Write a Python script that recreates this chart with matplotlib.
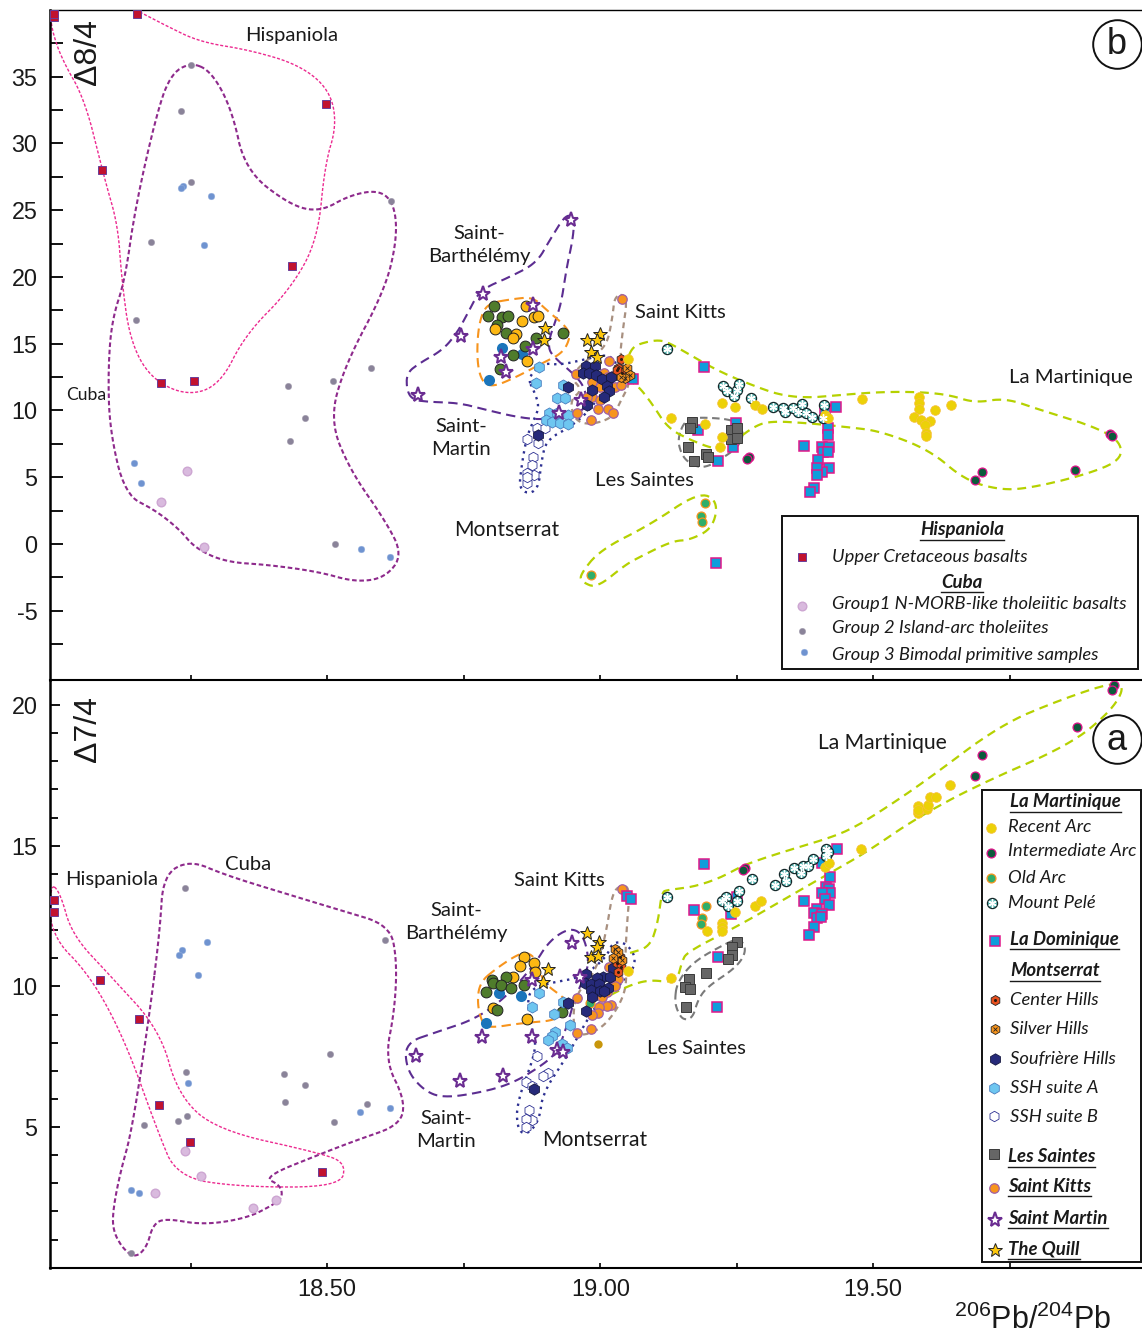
#!/usr/bin/env python3
"""Pb isotope plots (D8/4 and D7/4 vs 206Pb/204Pb), Lesser Antilles, Hispaniola, Cuba."""
import numpy as np
import matplotlib
matplotlib.use("Agg")
import matplotlib.pyplot as plt
from matplotlib.lines import Line2D
from matplotlib.patches import Rectangle

plt.rcParams["axes.unicode_minus"] = False

W, H = 1142, 1336
FONT = ["Lato", "Open Sans", "DejaVu Sans"]
NUMFONT = ["Liberation Sans", "DejaVu Sans"]

# ===== panel b, D8/4 =====
HISP_B = [(18.000,39.5),(18.000,39.7),(18.152,39.7),(18.498,32.95),(18.088,28.0),(18.436,20.8),(18.196,12.06),(18.256,12.2)]
CUBA2_B = [(18.251,35.9),(18.233,32.4),(18.251,27.1),(18.178,22.6),(18.150,16.8),(18.617,25.7),(18.511,12.2),(18.429,11.8),(18.581,13.2),(18.460,9.4),(18.432,7.7),(18.515,0.0)]
CUBA3_B = [(18.236,26.8),(18.233,26.7),(18.288,26.1),(18.275,22.4),(18.147,6.07),(18.159,4.57),(18.562,-0.37),(18.615,-0.97)]
CUBA1_B = [(18.244,5.47),(18.196,3.15),(18.275,-0.22)]
SB_GREEN_B = [(18.806,17.83),(18.794,17.08),(18.820,17.0),(18.831,17.08),(18.811,16.4),(18.827,15.8),(18.882,15.43),(18.933,15.8),(18.862,14.83),(18.840,14.16),(18.816,13.11)]
SB_YELLOW_B = [(18.864,17.83),(18.858,16.7),(18.880,17.0),(18.886,17.08),(18.807,16.1),(18.847,15.73),(18.840,15.43),(18.867,13.71)]
SB_BLUE_B = [(18.820,14.68),(18.858,14.23),(18.796,12.28)]
MARTIN_B = [(18.946,24.27),(18.785,18.73),(18.877,17.9),(18.745,15.58),(18.877,14.61),(18.818,14.01),(18.827,12.88),(18.966,10.79),(18.924,9.81),(18.666,11.16)]
QUILL_B = [(18.900,16.18),(18.897,15.28),(18.977,15.28),(19.000,15.73),(18.994,15.28),(18.984,14.38),(18.994,14.01)]
SSHA_B = [(18.889,13.26),(18.882,12.06),(18.932,11.91),(18.922,10.94),(18.935,10.94),(18.906,9.81),(18.941,9.66),(18.922,9.81),(18.902,9.29),(18.913,9.14),(18.926,9.06),(18.941,8.99)]
SSHB_B = [(18.884,8.69),(18.900,8.69),(18.867,7.87),(18.886,7.57),(18.877,6.52),(18.875,5.92),(18.879,5.17),(18.866,5.32),(18.867,4.57),(18.866,5.02)]
KITTS_B = [(19.041,18.35),(19.016,13.71),(19.008,12.81),(19.027,12.66),(18.986,12.13),(19.014,12.51),(19.000,11.76),(18.986,11.01),(19.027,11.76),(19.039,11.91),(19.000,10.79),(18.977,11.01),(18.957,9.81),(18.996,10.11),(19.014,10.11),(19.023,9.81),(18.984,9.29),(18.956,12.73)]
SOUF_B = [(18.975,13.33),(18.990,13.33),(18.968,12.81),(18.979,12.81),(18.992,12.66),(19.003,12.36),(19.021,12.51),(19.012,11.83),(18.986,11.53),(19.016,11.46),(19.008,11.01),(18.941,11.76),(18.886,8.16),(18.977,10.41)]
CENTER_B = [(19.039,13.86),(19.033,13.18),(19.041,12.81),(19.031,13.03)]
SILVER_B = [(19.049,13.18),(19.055,12.66),(19.046,12.43),(19.039,12.51)]
RECENT_B = [(19.051,13.86),(19.130,9.44),(19.223,10.56),(19.247,10.26),(19.284,10.41),(19.297,10.11),(19.192,8.99),(19.223,8.01),(19.220,7.27),(19.412,9.66),(19.417,9.44),(19.479,10.86),
            (19.584,11.01),(19.584,10.56),(19.584,10.11),(19.613,10.04),(19.576,9.51),(19.587,9.29),(19.604,9.21),(19.595,8.91),(19.597,8.31),(19.597,8.09),(19.642,10.41)]
OLD_B = [(19.192,3.07),(19.185,2.10),(19.187,1.65),(18.983,-2.32)]
INTER_B = [(19.273,6.52),(19.269,6.37),(19.699,5.39),(19.870,5.54),(19.687,4.79),(19.934,8.24),(19.938,8.09)]
PELE_B = [(19.123,14.61),(19.225,11.83),(19.232,11.46),(19.245,11.09),(19.251,11.53),(19.254,11.98),(19.276,10.94),(19.317,10.26),(19.335,10.19),(19.339,9.89),(19.353,10.19),(19.362,9.89),(19.370,10.49),(19.377,9.81),(19.388,9.51),(19.410,10.41),(19.408,9.44)]
DOMINICA_B = [(19.190,13.26),(19.179,8.54),(19.249,9.06),(19.244,7.27),(19.216,6.22),(19.412,10.11),(19.432,10.26),(19.417,8.69),(19.417,8.16),(19.374,7.34),(19.407,7.27),(19.419,7.27),(19.408,6.89),(19.417,6.89),(19.399,6.29),(19.419,5.69),(19.407,5.39),(19.397,5.69),(19.397,5.17),(19.392,4.19),(19.385,3.90),(19.212,-1.42),(19.060,12.36)]
SAINTES_B = [(19.168,9.14),(19.165,8.69),(19.161,7.27),(19.172,6.22),(19.194,6.74),(19.198,6.52),(19.240,8.54),(19.251,8.69),(19.240,7.87),(19.251,7.94)]

# outlines, panel b
HISP_HULL_B = [(18.157,39.85),(18.203,38.87),(18.267,37.6),(18.359,37.0),(18.450,35.88),(18.505,34.01),(18.518,31.39),(18.496,28.39),(18.483,22.77),(18.432,19.03),(18.350,15.66),(18.304,11.91),(18.243,11.09),(18.176,12.43),(18.139,15.28),(18.124,19.78),(18.117,23.9),(18.093,27.27),(18.057,33.26),(18.015,36.25),(17.996,38.5),(17.993,40.0)]
CUBA_HULL_B = [(18.251,36.1),(18.289,35.36),(18.326,32.51),(18.350,28.01),(18.432,25.39),(18.487,24.87),(18.542,26.14),(18.597,26.52),(18.624,25.39),(18.628,22.77),(18.606,19.03),(18.533,13.41),(18.505,9.29),(18.542,5.54),(18.606,1.80),(18.639,-0.82),(18.606,-2.55),(18.551,-2.85),(18.487,-2.10),(18.395,-1.57),(18.313,-1.35),(18.258,-0.30),(18.231,1.05),(18.185,2.55),(18.130,3.67),(18.102,8.54),(18.099,13.03),(18.106,16.78),(18.130,19.78),(18.148,25.02),(18.185,31.76),(18.212,35.13)]
MARTIN_HULL_B = [(18.939,24.79),(18.953,24.27),(18.950,22.77),(18.939,20.75),(18.930,18.28),(18.921,17.0),(18.902,14.76),(18.921,13.78),(18.950,12.81),(18.972,11.76),(18.977,10.26),(18.950,9.66),(18.895,9.29),(18.847,9.51),(18.792,10.04),(18.743,10.56),(18.688,10.64),(18.657,10.79),(18.646,11.53),(18.646,12.81),(18.670,13.56),(18.712,14.53),(18.738,15.8),(18.758,17.3),(18.780,19.03),(18.835,20.0),(18.884,21.05),(18.908,22.77)]
ORANGE_HULL_B = [(18.798,18.05),(18.840,18.35),(18.877,18.5),(18.902,17.53),(18.939,16.25),(18.946,15.51),(18.932,14.31),(18.895,13.56),(18.847,12.51),(18.804,11.76),(18.784,12.13),(18.775,13.56),(18.776,15.8),(18.784,17.3)]
MONT_HULL_B = [(18.867,12.43),(18.880,11.39),(18.889,10.26),(18.877,9.14),(18.866,8.01),(18.857,6.07),(18.851,3.90),(18.886,3.82),(18.893,6.29),(18.902,7.79),(18.945,8.76),(18.976,9.81),(18.994,10.79),(19.036,12.51),(19.023,14.31),(18.968,13.78),(18.926,13.41),(18.895,13.56)]
KITTS_HULL_B = [(19.027,18.65),(19.051,18.65),(19.041,15.8),(19.036,13.78),(19.058,12.28),(19.036,10.56),(19.023,9.44),(18.981,8.91),(18.953,9.29),(18.945,10.79),(18.968,11.53),(18.945,12.51),(18.975,13.78),(19.012,14.76),(19.023,17.0)]
MART_HULL_B = [(19.049,13.78),(19.060,14.76),(19.078,15.06),(19.104,15.28),(19.124,15.13),(19.165,14.16),(19.220,12.88),(19.287,11.76),(19.330,11.16),(19.379,10.94),(19.440,11.16),(19.513,11.39),(19.586,11.39),(19.641,11.16),(19.687,10.56),(19.742,10.94),(19.806,10.04),(19.897,8.91),(19.952,7.79),(19.956,6.29),(19.888,5.17),(19.788,4.19),(19.733,4.04),(19.668,4.79),(19.604,7.04),(19.513,8.46),(19.452,8.76),(19.379,9.06),(19.311,9.21),(19.280,8.76),(19.238,7.42),(19.214,7.04),(19.165,7.79),(19.124,8.69),(19.097,10.41),(19.073,11.69),(19.060,12.06),(19.046,13.03)]
OLD_HULL_B = [(18.963,-2.32),(19.000,-0.45),(19.091,1.42),(19.181,3.90),(19.216,3.22),(19.207,1.20),(19.165,0.30),(19.132,0.22),(19.073,-0.97),(19.046,-1.57),(18.994,-3.30),(18.967,-2.85)]
SAINTES_HULL_B = [(19.143,8.01),(19.156,9.29),(19.183,9.51),(19.251,9.29),(19.264,8.31),(19.253,7.27),(19.225,6.44),(19.189,5.62),(19.159,6.14),(19.146,7.04)]

# ===== panel a, D7/4 =====
HISP_A = [(18.000,13.07),(18.000,12.64),(18.084,10.23),(18.156,8.84),(18.192,5.78),(18.249,4.47),(18.490,3.40)]
CUBA2_A = [(18.240,13.5),(18.606,11.65),(18.242,6.96),(18.505,7.6),(18.421,6.88),(18.459,6.49),(18.423,5.89),(18.243,5.39),(18.227,5.21),(18.165,5.07),(18.512,5.18),(18.573,5.82),(18.141,0.52)]
CUBA3_A = [(18.234,11.29),(18.229,11.11),(18.280,11.58),(18.264,10.4),(18.245,6.56),(18.141,2.76),(18.156,2.65),(18.560,5.53),(18.615,5.68)]
CUBA1_A = [(18.240,4.15),(18.269,3.26),(18.185,2.65),(18.364,2.12),(18.407,2.40)]
SB_GREEN_A = [(18.802,10.23),(18.804,10.12),(18.827,10.33),(18.818,10.05),(18.837,9.94),(18.791,9.80),(18.861,10.05),(18.811,9.16),(18.930,9.09)]
SB_YELLOW_A = [(18.861,11.04),(18.853,10.72),(18.879,10.83),(18.881,10.51),(18.840,10.33),(18.804,9.23),(18.866,8.84)]
SB_BLUE_A = [(18.815,9.76),(18.855,9.66),(18.791,8.70)]
MARTIN_A = [(18.948,11.54),(18.875,10.23),(18.963,10.33),(18.784,8.2),(18.875,8.2),(18.663,7.52),(18.743,6.64),(18.822,6.81),(18.921,7.74),(18.932,7.67)]
QUILL_A = [(18.977,11.9),(18.998,11.58),(18.994,11.4),(18.984,11.04),(18.996,11.08),(18.905,10.62),(18.895,10.15)]
SSHA_A = [(18.888,9.76),(18.875,9.27),(18.932,9.44),(18.916,9.02),(18.945,8.63),(18.918,8.38),(18.913,8.24),(18.905,8.09),(18.930,7.95),(18.939,7.81)]
SSHB_A = [(18.884,7.52),(18.905,6.92),(18.895,6.81),(18.864,6.60),(18.875,6.46),(18.870,5.60),(18.875,5.25),(18.864,5.28),(18.864,5.00)]
KITTS_A = [(19.041,13.46),(19.016,10.69),(19.023,10.23),(19.033,10.26),(19.027,10.01),(19.012,9.80),(19.003,9.62),(19.020,9.34),(19.012,9.30),(18.998,9.27),(18.996,9.05),(18.986,8.98),(18.957,9.59),(18.983,8.48),(18.957,8.34)]
SOUF_A = [(19.023,10.65),(18.974,10.44),(19.005,10.33),(19.018,10.33),(18.994,10.30),(18.972,10.12),(18.984,10.08),(18.998,10.08),(18.984,9.87),(19.000,9.83),(19.014,9.94),(19.007,9.83),(18.986,9.62),(18.941,9.41),(18.974,9.12),(18.879,6.35)]
GOLD_A = [(18.996,7.95)]
CENTER_A = [(19.036,11.04),(19.031,10.83),(19.039,10.69),(19.033,10.51)]
SILVER_A = [(19.027,11.33),(19.033,11.22),(19.041,10.94),(19.023,11.01)]
RECENT_A = [(19.051,10.55),(19.130,10.30),(19.196,11.97),(19.223,12.25),(19.223,12.11),(19.223,11.97),(19.284,12.86),(19.295,13.03),(19.247,12.64),(19.412,14.24),(19.419,14.39),(19.478,14.88),
            (19.582,16.16),(19.582,16.41),(19.582,16.27),(19.599,16.31),(19.600,16.45),(19.604,16.73),(19.615,16.73),(19.641,17.16)]
OLD_A = [(19.194,12.86),(19.187,12.43),(19.185,12.22),(18.981,9.41)]
INTER_A = [(19.265,14.21),(19.262,14.14),(19.699,18.22),(19.687,17.48),(19.874,19.22),(19.941,20.71),(19.938,20.54)]
PELE_A = [(19.123,13.18),(19.254,13.39),(19.278,13.82),(19.231,13.18),(19.223,13.03),(19.234,12.86),(19.251,13.03),(19.320,13.60),(19.337,13.99),(19.340,13.75),(19.355,14.21),(19.368,14.03),(19.372,14.28),(19.381,14.28),(19.390,14.53),(19.414,14.88),(19.417,14.78),(19.414,14.63)]
DOMINICA_A = [(19.190,14.35),(19.172,12.71),(19.251,13.18),(19.240,12.57),(19.216,11.04),(19.214,9.27),(19.374,13.03),(19.434,14.88),(19.407,14.39),(19.421,13.89),(19.414,13.53),(19.419,13.46),(19.421,13.32),(19.407,13.32),(19.412,13.11),(19.419,12.89),(19.397,12.75),(19.392,12.61),(19.407,12.57),(19.397,12.43),(19.405,12.47),(19.392,12.11),(19.382,11.83),(19.049,13.21),(19.056,13.11)]
SAINTES_A = [(19.251,11.58),(19.242,11.40),(19.242,11.11),(19.234,10.97),(19.194,10.48),(19.163,10.26),(19.156,9.98),(19.165,9.91),(19.157,9.27)]

# outlines, panel a
HISP_HULL_A = [(17.993,13.67),(18.011,13.35),(18.033,11.83),(18.102,10.4),(18.194,8.45),(18.227,6.14),(18.298,4.89),(18.487,4.08),(18.535,3.72),(18.524,2.87),(18.341,2.87),(18.225,3.22),(18.189,4.89),(18.130,8.09),(18.066,10.4),(17.993,11.83)]
CUBA_HULL_A = [(18.176,9.16),(18.194,12.0),(18.200,13.96),(18.249,14.49),(18.313,13.96),(18.432,13.25),(18.524,12.71),(18.615,12.18),(18.628,10.94),(18.624,9.16),(18.606,7.38),(18.643,5.96),(18.634,5.07),(18.555,4.54),(18.493,4.08),(18.383,3.22),(18.414,2.94),(18.419,2.51),(18.401,2.23),(18.353,1.76),(18.273,1.52),(18.203,1.76),(18.181,1.52),(18.170,0.73),(18.148,0.34),(18.124,0.73),(18.108,1.34),(18.108,2.05),(18.121,3.36),(18.143,4.89)]
MARTIN_HULL_A = [(18.643,7.99),(18.701,8.38),(18.767,8.80),(18.822,9.51),(18.877,10.69),(18.908,11.65),(18.948,12.11),(18.972,11.75),(18.981,10.69),(18.957,9.76),(18.939,8.56),(18.921,7.63),(18.889,7.13),(18.840,6.56),(18.785,6.24),(18.712,6.03),(18.676,6.32),(18.646,7.03)]
ORANGE_HULL_A = [(18.780,10.15),(18.811,10.65),(18.847,11.11),(18.867,11.22),(18.884,10.94),(18.893,10.33),(18.902,10.05),(18.932,9.62),(18.941,9.41),(18.926,8.80),(18.858,8.70),(18.798,8.52),(18.784,8.70),(18.775,9.41)]
MONT_HULL_A = [(18.866,9.51),(18.877,8.34),(18.884,7.74),(18.847,5.85),(18.849,4.89),(18.867,4.72),(18.889,5.25),(18.895,6.21),(18.939,7.49),(18.976,8.80),(19.000,9.51),(19.049,10.23),(19.068,10.94),(19.049,11.54),(19.023,11.58),(19.012,11.04),(18.968,10.33),(18.908,10.12),(18.877,9.94)]
KITTS_HULL_A = [(19.023,13.35),(19.039,13.60),(19.055,13.50),(19.049,12.11),(19.046,10.94),(19.049,9.98),(19.031,9.16),(19.000,8.45),(18.957,8.20),(18.950,8.91),(18.957,9.76),(18.994,10.58),(19.012,12.0)]
MART_HULL_A = [(19.055,11.19),(19.091,11.40),(19.106,12.25),(19.113,13.35),(19.124,13.43),(19.170,13.53),(19.220,13.85),(19.262,14.31),(19.335,14.78),(19.408,15.20),(19.458,15.56),(19.518,16.27),(19.599,17.34),(19.733,19.29),(19.842,20.18),(19.941,20.82),(19.961,20.61),(19.934,19.75),(19.860,18.58),(19.692,17.16),(19.580,15.99),(19.489,14.78),(19.421,14.03),(19.335,13.07),(19.256,12.18),(19.159,11.22),(19.150,10.87),(19.143,10.33),(19.128,10.15),(19.091,10.23),(19.055,10.05),(19.012,9.62)]
SAINTES_HULL_A = [(19.137,9.51),(19.141,10.12),(19.170,10.87),(19.232,11.54),(19.256,11.72),(19.269,11.29),(19.251,10.69),(19.196,9.98),(19.179,9.51),(19.170,8.88),(19.152,8.80),(19.141,9.16)]

# ticks
YTICKS_B = [-5, 0, 5, 10, 15, 20, 25, 30, 35]
YTICKS_A = [5, 10, 15, 20]
XTICKS = [18.50, 19.00, 19.50]

# ===== marker styles =====
STYLE = {
    "hisp": dict(marker="s", ms=6.2, mfc="#c1122f", mec="#6a3d9a", mew=0.7),
    "cuba1": dict(marker="o", ms=6.2, mfc="#d9bade", mec="#cda6d2", mew=1.0),
    "cuba2": dict(marker="o", ms=4.6, mfc="#8a8399", mec="#a09aab", mew=0.3),
    "cuba3": dict(marker="o", ms=4.8, mfc="#6f93d0", mec="#9db5e0", mew=0.3),
    "green": dict(marker="o", ms=7.8, mfc="#4f7c2b", mec="#222222", mew=0.7),
    "yellow": dict(marker="o", ms=7.8, mfc="#fdb813", mec="#222222", mew=0.7),
    "blue": dict(marker="o", ms=8, mfc="#1b75bb", mec="none"),
    "martin": dict(marker="*", ms=11, mfc="white", mec="#6a2c91", mew=1.5),
    "quill": dict(marker="*", ms=10.5, mfc="#fdc70c", mec="#222222", mew=0.7),
    "ssha": dict(marker="h", ms=8, mfc="#6ec6f0", mec="#4a7fc0", mew=0.6),
    "sshb": dict(marker="h", ms=7.5, mfc="white", mec="#2e3192", mew=0.6),
    "souf": dict(marker="h", ms=8.2, mfc="#262a7a", mec="#15173f", mew=0.6),
    "kitts": dict(marker="o", ms=6.8, mfc="#f7941d", mec="#a05fa5", mew=0.9),
    "center": dict(marker="h", ms=7.2, mfc="#e8501e", mec="#222222", mew=0.6),
    "silver": dict(marker="h", ms=7.2, mfc="#f7941d", mec="#222222", mew=0.6),
    "recent": dict(marker="o", ms=7, mfc="#ecd108", mec="#f7c040", mew=0.5),
    "inter": dict(marker="o", ms=6.4, mfc="#0c5a3c", mec="#e0128a", mew=0.9),
    "old": dict(marker="o", ms=6.4, mfc="#2fae6a", mec="#f7941d", mew=0.9),
    "pele": dict(marker="o", ms=7.3, mfc="#58b9b5", mec="#16282a", mew=0.9),
    "dominica": dict(marker="s", ms=7.2, mfc="#0f9ddb", mec="#e0188a", mew=1.1),
    "saintes": dict(marker="s", ms=7.6, mfc="#666666", mec="#3a3a3a", mew=0.7),
    "gold": dict(marker="o", ms=6, mfc="#c8960c", mec="none"),
}
OVERLAY = {
    "pele": dict(marker=(6, 2, 0), ms=6, mec="white", mew=1.0),
    "center": dict(marker="o", ms=2.2, mfc="#2a1a10", mec="none"),
    "silver": dict(marker="x", ms=3.5, mec="#222222", mew=0.6),
}
HULL = {
    "hisp": dict(color="#ec2a90", lw=1.0, ls=(0, (2.2, 1.3))),
    "cuba": dict(color="#8e2a8c", lw=1.5, ls=(0, (2.2, 1.3))),
    "martin": dict(color="#5c2d91", lw=1.5, ls=(0, (4.5, 2.6))),
    "orange": dict(color="#f7941d", lw=1.5, ls=(0, (4.5, 2.6))),
    "mont": dict(color="#2e3192", lw=1.7, ls=(0, (1, 2))),
    "kitts": dict(color="#a89080", lw=1.6, ls=(0, (2.6, 2))),
    "mart": dict(color="#b5d100", lw=1.6, ls=(0, (4, 2.6))),
    "saintes": dict(color="#7a7a7a", lw=1.5, ls=(0, (3.6, 2.2))),
}


def smooth(points, closed=True, rounds=3):
    # corner cutting, the outlines are hand drawn curves
    p = np.array(points, dtype=float)
    for _ in range(rounds):
        if closed:
            q = np.roll(p, -1, axis=0)
        else:
            q = p[1:]
            p = p[:-1]
        a = 0.75 * p + 0.25 * q
        b = 0.25 * p + 0.75 * q
        new = np.empty((len(a) * 2, 2))
        new[0::2] = a
        new[1::2] = b
        if not closed:
            new = np.vstack([p[0], new, q[-1]])
        p = new
    if closed:
        p = np.vstack([p, p[0]])
    return p


def draw_hull(ax, points, name, closed=True):
    s = smooth(points, closed)
    ax.plot(s[:, 0], s[:, 1], zorder=2, **HULL[name])


def draw_points(ax, points, name, z=3):
    p = np.array(points)
    ax.plot(p[:, 0], p[:, 1], ls="none", zorder=z, **STYLE[name])
    if name in OVERLAY:
        ax.plot(p[:, 0], p[:, 1], ls="none", zorder=z + 0.1, **OVERLAY[name])


def fx(px):
    return px / W


def fy(py):
    return 1 - py / H


def label(px, py, s, size=14.6, **kw):
    kw.setdefault("ha", "center")
    kw.setdefault("va", "center")
    kw.setdefault("family", FONT)
    kw.setdefault("color", "#1a1a1a")
    kw.setdefault("zorder", 7)
    return fig.text(fx(px), fy(py), s, fontsize=size, **kw)


def heading(px, py, s, ha="left"):
    t = label(px, py, s, size=13.4, ha=ha, style="italic", weight="bold")
    bb = t.get_window_extent(fig.canvas.get_renderer())
    fig.add_artist(Line2D([bb.x0 / W, bb.x1 / W], [fy(py + 10)] * 2,
                          transform=fig.transFigure, color="#1a1a1a", lw=1.0, zorder=7))


def key(px, py, name):
    fig.add_artist(Line2D([fx(px)], [fy(py)], ls="none", transform=fig.transFigure, zorder=5, **STYLE[name]))
    if name in OVERLAY:
        fig.add_artist(Line2D([fx(px)], [fy(py)], ls="none", transform=fig.transFigure, zorder=6, **OVERLAY[name]))


def entry(px, py, s):
    label(px, py, s, size=13.2, ha="left", style="italic")


fig = plt.figure(figsize=(W / 100, H / 100), dpi=100)
ax_b = fig.add_axes([fx(50), fy(680), fx(1092), (680 - 10) / H])
ax_a = fig.add_axes([fx(50), fy(1268), fx(1092), (1268 - 681) / H])

# panel b
draw_hull(ax_b, HISP_HULL_B, "hisp", closed=False)
draw_hull(ax_b, CUBA_HULL_B, "cuba")
draw_hull(ax_b, MARTIN_HULL_B, "martin")
draw_hull(ax_b, ORANGE_HULL_B, "orange")
draw_hull(ax_b, MONT_HULL_B, "mont")
draw_hull(ax_b, KITTS_HULL_B, "kitts")
draw_hull(ax_b, SAINTES_HULL_B, "saintes")
draw_hull(ax_b, MART_HULL_B, "mart")
draw_hull(ax_b, OLD_HULL_B, "mart")
for pts, name in [(HISP_B, "hisp"), (CUBA2_B, "cuba2"), (CUBA3_B, "cuba3"), (CUBA1_B, "cuba1"),
                  (SB_BLUE_B, "blue"), (SB_GREEN_B, "green"), (SB_YELLOW_B, "yellow"),
                  (SSHB_B, "sshb"), (SSHA_B, "ssha"), (KITTS_B, "kitts"), (SOUF_B, "souf"),
                  (DOMINICA_B, "dominica"), (SAINTES_B, "saintes"), (CENTER_B, "center"), (SILVER_B, "silver"),
                  (PELE_B, "pele"), (RECENT_B, "recent"), (OLD_B, "old"), (INTER_B, "inter"),
                  (MARTIN_B, "martin"), (QUILL_B, "quill")]:
    draw_points(ax_b, pts, name)

# panel a
draw_hull(ax_a, HISP_HULL_A, "hisp")
draw_hull(ax_a, CUBA_HULL_A, "cuba")
draw_hull(ax_a, MARTIN_HULL_A, "martin")
draw_hull(ax_a, ORANGE_HULL_A, "orange")
draw_hull(ax_a, MONT_HULL_A, "mont")
draw_hull(ax_a, KITTS_HULL_A, "kitts")
draw_hull(ax_a, SAINTES_HULL_A, "saintes")
draw_hull(ax_a, MART_HULL_A, "mart", closed=False)
for pts, name in [(HISP_A, "hisp"), (CUBA2_A, "cuba2"), (CUBA3_A, "cuba3"), (CUBA1_A, "cuba1"),
                  (SB_BLUE_A, "blue"), (SB_YELLOW_A, "yellow"), (SB_GREEN_A, "green"),
                  (SSHB_A, "sshb"), (SSHA_A, "ssha"), (KITTS_A, "kitts"), (GOLD_A, "gold"), (OLD_A, "old"), (SOUF_A, "souf"),
                  (DOMINICA_A, "dominica"), (SAINTES_A, "saintes"), (CENTER_A, "center"), (SILVER_A, "silver"),
                  (PELE_A, "pele"), (RECENT_A, "recent"), (INTER_A, "inter"),
                  (MARTIN_A, "martin"), (QUILL_A, "quill")]:
    draw_points(ax_a, pts, name)

# axes
x_left = 18 + (50 - 54) / 546
x_right = 18 + (1142 - 54) / 546
for ax in (ax_a, ax_b):
    ax.set_xlim(x_left, x_right)
    ax.patch.set_alpha(0)
    ax.spines["right"].set_visible(False)
    ax.spines["left"].set_linewidth(1.8)
    ax.spines["bottom"].set_linewidth(1.5)
    ax.set_xticks(np.arange(18.25, 20, 0.25))
    ax.tick_params(axis="x", direction="in", length=3.5, width=1.2, labelbottom=False)
ax_b.set_ylim(-10.19, 40.0)
ax_a.set_ylim(-0.01, 20.855)
ax_b.spines["top"].set_linewidth(1.0)
ax_a.spines["top"].set_visible(False)

ax_b.set_yticks(YTICKS_B)
ax_b.set_yticks(np.arange(-7.5, 40, 5), minor=True)
ax_a.set_yticks(YTICKS_A)
ax_a.set_yticks(np.arange(1, 21), minor=True)
ax_b.tick_params(axis="y", which="major", direction="in", length=9, width=1.3, pad=9)
ax_b.tick_params(axis="y", which="minor", direction="in", length=9, width=1.3)
ax_a.tick_params(axis="y", which="major", direction="in", length=7, width=1.3, pad=9)
ax_a.tick_params(axis="y", which="minor", direction="in", length=6, width=1.3)
for ax in (ax_a, ax_b):
    for t in ax.get_yticklabels():
        t.set_family(NUMFONT)
        t.set_fontsize(16.8)
        t.set_color("#1a1a1a")

for v, px in zip(XTICKS, [327, 601, 873]):
    fig.text(fx(px), fy(1290), f"{v:.2f}", ha="center", va="center", fontsize=17, family=NUMFONT, color="#1a1a1a")

# axis names
fig.text(fx(88), fy(52), "\u03948/4", rotation=90, ha="center", va="center", fontsize=23, family=NUMFONT, color="#1a1a1a")
fig.text(fx(88), fy(729), "\u03947/4", rotation=90, ha="center", va="center", fontsize=23, family=NUMFONT, color="#1a1a1a")
fig.text(fx(1033), fy(1320), r"$\mathregular{^{206}Pb/^{204}Pb}$", ha="center", va="center", fontsize=22,
         family=NUMFONT, color="#1a1a1a")

# panel letters
for px, py, s in [(1117, 44, "b"), (1117, 739, "a")]:
    fig.add_artist(Line2D([fx(px)], [fy(py)], marker="o", ms=35, mfc="white", mec="#111111", mew=1.4,
                          ls="none", transform=fig.transFigure, zorder=4))
    label(px, py + 1, s, size=26, family=NUMFONT)

# region names
label(292, 35, "Hispaniola")
label(479, 245, "Saint-\nBarth\u00e9l\u00e9my", linespacing=1.4)
label(680, 313, "Saint Kitts")
label(86, 395, "Cuba", size=12.6)
label(1071, 377, "La Martinique")
label(461, 438, "Saint-\nMartin", linespacing=1.4)
label(644, 481, "Les Saintes")
label(507, 530, "Montserrat", size=15.2)

label(882, 743, "La Martinique", size=15.2)
label(559, 881, "Saint Kitts")
label(456, 922, "Saint-\nBarth\u00e9l\u00e9my", linespacing=1.4)
label(248, 865, "Cuba")
label(112, 879, "Hispaniola")
label(696, 1048, "Les Saintes")
label(446, 1130, "Saint-\nMartin", linespacing=1.4)
label(595, 1140, "Montserrat", size=15.2)

# legend boxes
fig.add_artist(Rectangle((fx(782), fy(669)), (1138 - 782) / W, (669 - 516) / H, transform=fig.transFigure,
                         fc="white", ec="#111111", lw=1.4, zorder=3.5))
fig.add_artist(Rectangle((fx(982), fy(1262)), (1141 - 982) / W, (1262 - 790) / H, transform=fig.transFigure,
                         fc="white", ec="#111111", lw=1.4, zorder=3.5))

heading(962, 530, "Hispaniola", ha="center")
key(802, 557, "hisp")
entry(832, 557, "Upper Cretaceous basalts")
heading(962, 582, "Cuba", ha="center")
key(802, 606, "cuba1")
entry(832, 604, "Group1 N-MORB-like tholeiitic basalts")
key(802, 631, "cuba2")
entry(832, 628, "Group 2 Island-arc tholeiites")
key(804, 652, "cuba3")
entry(832, 655, "Group 3 Bimodal primitive samples")

heading(1010, 802, "La Martinique")
key(991, 828, "recent")
entry(1008, 827, "Recent Arc")
key(991, 853, "inter")
entry(1008, 851, "Intermediate Arc")
key(991, 878, "old")
entry(1008, 878, "Old Arc")
key(992, 903, "pele")
entry(1008, 903, "Mount Pel\u00e9")
key(995, 941, "dominica")
heading(1010, 939, "La Dominique")
heading(1010, 971, "Montserrat")
key(995, 1000, "center")
entry(1010, 1000, "Center Hills")
key(995, 1029, "silver")
entry(1010, 1029, "Silver Hills")
key(995, 1059, "souf")
entry(1010, 1059, "Soufri\u00e8re Hills")
key(994, 1088, "ssha")
entry(1010, 1088, "SSH suite A")
key(994, 1116, "sshb")
entry(1010, 1117, "SSH suite B")
key(994, 1154, "saintes")
heading(1008, 1157, "Les Saintes")
key(994, 1188, "kitts")
heading(1008, 1186, "Saint Kitts")
key(995, 1220, "martin")
heading(1008, 1218, "Saint Martin")
key(995, 1250, "quill")
heading(1008, 1249, "The Quill")

fig.savefig("out.png", dpi=100)
